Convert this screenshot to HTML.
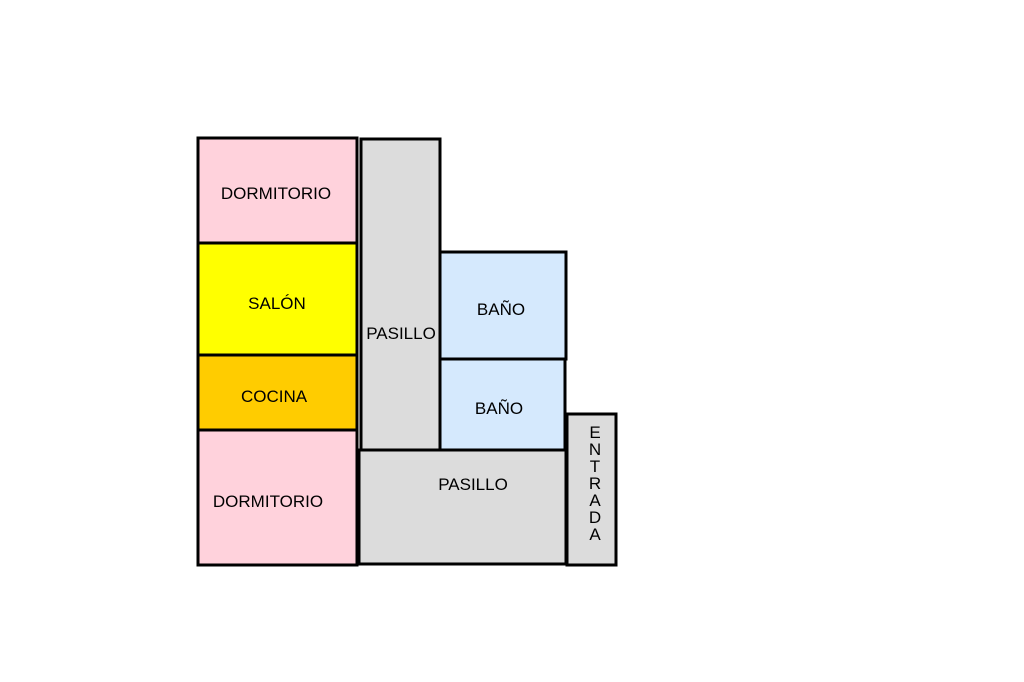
<!DOCTYPE html>
<html><head><style>
html,body{margin:0;padding:0;background:#fff;}
svg{display:block;}
text{font-family:"Liberation Sans",sans-serif;font-size:17px;fill:#000;}
</style></head><body>
<svg width="1024" height="682" viewBox="0 0 1024 682">
<g stroke="#000" stroke-width="3">
<rect x="361" y="139" width="79" height="311" fill="#dcdcdc"/>
<rect x="440" y="252" width="126" height="107" fill="#d5e9fd"/>
<rect x="440" y="359" width="125" height="91" fill="#d5e9fd"/>
<rect x="359" y="450" width="207" height="114" fill="#dcdcdc"/>
<rect x="567" y="414" width="49" height="151" fill="#dcdcdc"/>
<rect x="198" y="138" width="159" height="105" fill="#ffd2dc"/>
<rect x="198" y="243" width="159" height="112" fill="#ffff00"/>
<rect x="198" y="355" width="159" height="75" fill="#ffcc00"/>
<rect x="198" y="430" width="159" height="135" fill="#ffd2dc"/>
</g>
<text x="276" y="199" text-anchor="middle">DORMITORIO</text>
<text x="277" y="309" text-anchor="middle">SALÓN</text>
<text x="274" y="402" text-anchor="middle">COCINA</text>
<text x="268" y="507" text-anchor="middle">DORMITORIO</text>
<text x="401" y="339" text-anchor="middle">PASILLO</text>
<text x="501" y="315" text-anchor="middle">BAÑO</text>
<text x="499" y="414" text-anchor="middle">BAÑO</text>
<text x="473" y="490" text-anchor="middle">PASILLO</text>
<g text-anchor="middle">
<text x="595" y="438">E</text>
<text x="595" y="455">N</text>
<text x="595" y="472">T</text>
<text x="595" y="489">R</text>
<text x="595" y="506">A</text>
<text x="595" y="523">D</text>
<text x="595" y="540">A</text>
</g>
</svg>
</body></html>
